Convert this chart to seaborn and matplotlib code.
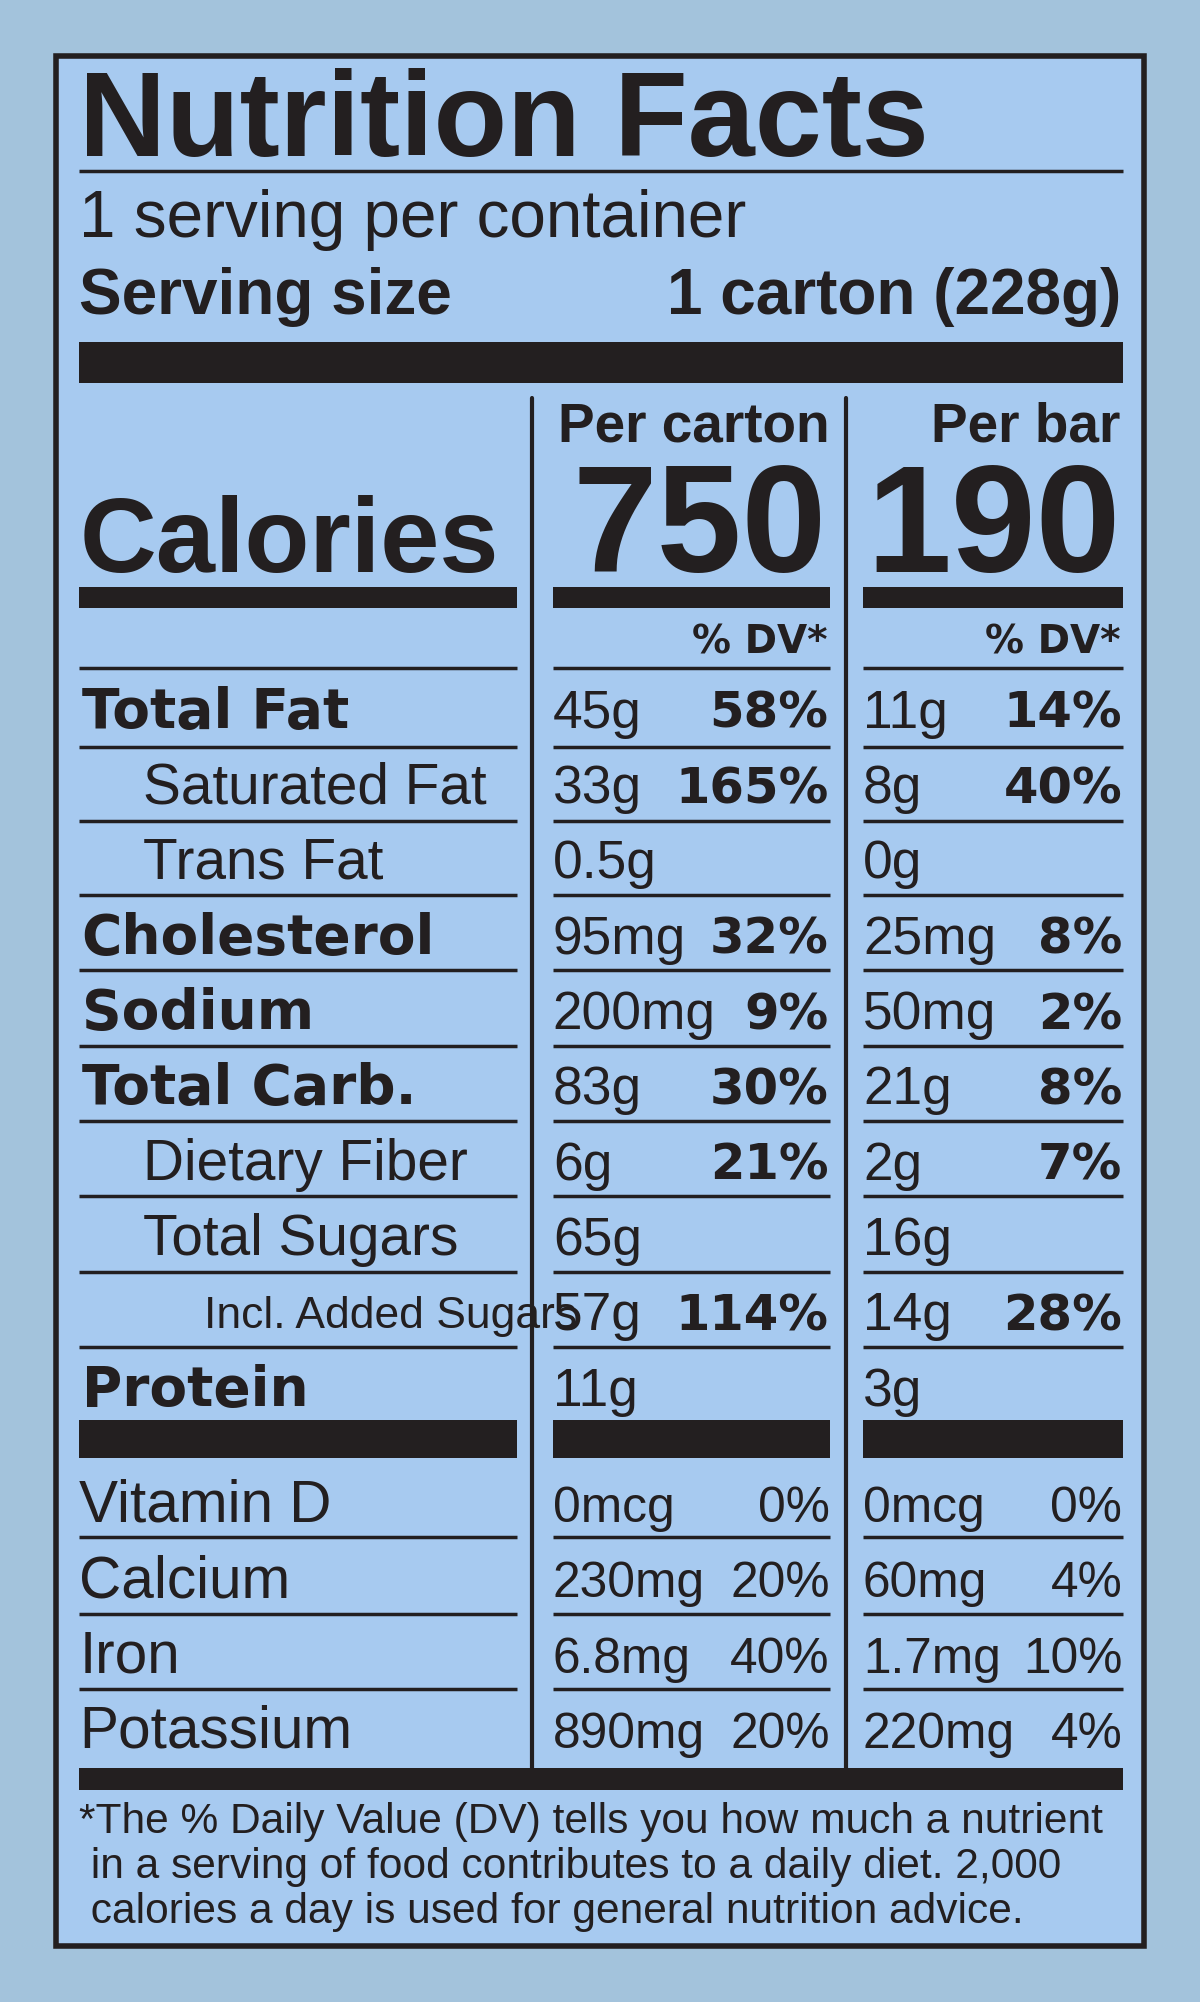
import matplotlib
matplotlib.use("Agg")
import matplotlib.pyplot as plt
import seaborn as sns
from matplotlib.patches import Rectangle

sns.set_theme(style="white")
plt.rcParams['font.family'] = ['Liberation Sans', 'DejaVu Sans']

title = "Nutrition Facts"
servings = "1 serving per container"
serving_size = ("Serving size", "1 carton (228g)")
col_heads = ["Per carton", "Per bar"]
calories = ["750", "190"]
nutrients = ["Total Fat", "Saturated Fat", "Trans Fat", "Cholesterol", "Sodium",
             "Total Carb.", "Dietary Fiber", "Total Sugars", "Incl. Added Sugars", "Protein"]
indent = [0, 1, 1, 0, 0, 0, 1, 1, 2, 0]
carton_amt = ["45g", "33g", "0.5g", "95mg", "200mg", "83g", "6g", "65g", "57g", "11g"]
carton_dv = ["58%", "165%", "", "32%", "9%", "30%", "21%", "", "114%", ""]
bar_amt = ["11g", "8g", "0g", "25mg", "50mg", "21g", "2g", "16g", "14g", "3g"]
bar_dv = ["14%", "40%", "", "8%", "2%", "8%", "7%", "", "28%", ""]
vitamins = ["Vitamin D", "Calcium", "Iron", "Potassium"]
vit_carton_amt = ["0mcg", "230mg", "6.8mg", "890mg"]
vit_carton_dv = ["0%", "20%", "40%", "20%"]
vit_bar_amt = ["0mcg", "60mg", "1.7mg", "220mg"]
vit_bar_dv = ["0%", "4%", "10%", "4%"]
footnote = ["*The % Daily Value (DV) tells you how much a nutrient",
            " in a serving of food contributes to a daily diet. 2,000",
            " calories a day is used for general nutrition advice."]

W, H = 940, 1568
K = 1200 / 940
def fs(cap):  # display cap height px -> points
    return cap * K / 0.72 * 72 / 100

fig = plt.figure(figsize=(12, 20.02), dpi=100)
fig.patch.set_facecolor("#a3c3dc")
ax = fig.add_axes([0, 0, 1, 1])
ax.set_xlim(0, W); ax.set_ylim(H, 0); ax.axis("off")
INK = "#231f20"
ax.add_patch(Rectangle((44, 44), 852, 1480, facecolor="#a7caf0", edgecolor=INK, lw=4))

def T(x, y, s, cap, ha="left", bold=False, heavy=False, **kw):
    fam = ['DejaVu Sans'] if heavy else ['Liberation Sans', 'DejaVu Sans']
    ax.text(x, y, s, fontsize=fs(cap), ha=ha, va="baseline", color=INK,
            fontweight="bold" if (bold or heavy) else "normal", family=fam, **kw)

def hline(y, x0, x1, lw):
    ax.plot([x0, x1], [y, y], color=INK, lw=lw, solid_capstyle="butt")

def bar(y0, y1, x0, x1):
    ax.add_patch(Rectangle((x0, y0), x1 - x0, y1 - y0, color=INK, lw=0))

T(62, 122, title, 68, bold=True)
hline(134, 62, 880, 2.5)
T(62, 186, servings, 37)
T(62, 246, serving_size[0], 36, bold=True)
T(878, 246, serving_size[1], 36, ha="right", bold=True)
bar(268, 300, 62, 880)

ax.plot([417, 417], [312, 1385], color=INK, lw=3)
ax.plot([663, 663], [312, 1385], color=INK, lw=3)
cols = [(433, 650), (676, 880)]
T(650, 346, col_heads[0], 31, ha="right", bold=True)
T(878, 346, col_heads[1], 31, ha="right", bold=True)
T(648, 448, calories[0], 86, ha="right", bold=True)
T(878, 448, calories[1], 86, ha="right", bold=True)
T(62, 448, "Calories", 60, bold=True)
segs = [(62, 405)] + cols
for x0, x1 in segs:
    bar(460, 476, x0, x1)
T(648, 512, "% DV*", 22, ha="right", heavy=True)
T(878, 512, "% DV*", 22, ha="right", heavy=True)

ylines = [523, 585, 643, 701, 760, 819, 878, 937, 996, 1055]
for y in ylines:
    for x0, x1 in segs:
        hline(y, x0, x1, 2.5)
row_c = [553, 612, 671, 730, 789, 848, 907, 966, 1025, 1084]
indx = [64, 112, 160]
for i, name in enumerate(nutrients):
    yb = row_c[i] + 17
    if indent[i] == 2:
        T(160, yb - 2, name, 25)
    else:
        T(indx[indent[i]], yb, name, 32 if indent[i] else 31, heavy=(indent[i] == 0))
    T(433, yb, carton_amt[i], 30)
    T(649, yb, carton_dv[i], 28, ha="right", heavy=True)
    T(676, yb, bar_amt[i], 30)
    T(879, yb, bar_dv[i], 28, ha="right", heavy=True)

for x0, x1 in segs:
    bar(1112, 1142, x0, x1)
for y in [1204, 1264, 1323]:
    for x0, x1 in segs:
        hline(y, x0, x1, 2.5)
vit_c = [1175, 1234, 1293, 1352]
for i, name in enumerate(vitamins):
    yb = vit_c[i] + 17
    T(62, yb, name, 33)
    T(433, yb, vit_carton_amt[i], 28)
    T(650, yb, vit_carton_dv[i], 28, ha="right")
    T(676, yb, vit_bar_amt[i], 28)
    T(879, yb, vit_bar_dv[i], 28, ha="right")
bar(1385, 1402, 62, 880)
for i, line in enumerate(footnote):
    T(62, 1436 + i * 35, line, 24)

fig.savefig("out.png", dpi=100, facecolor=fig.get_facecolor())
